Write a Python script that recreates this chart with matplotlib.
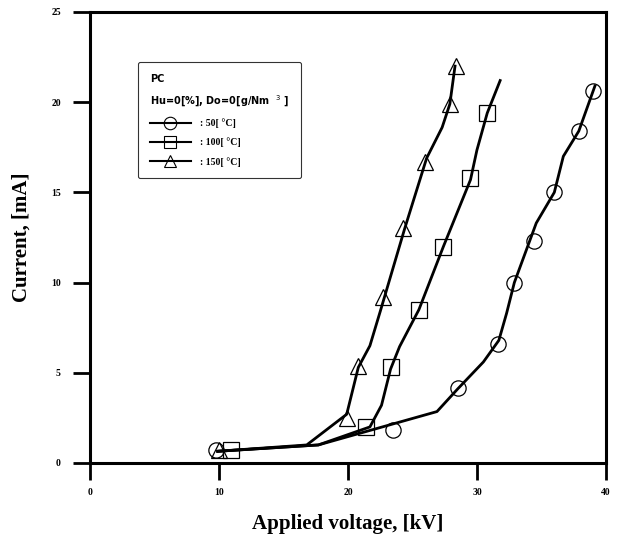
import matplotlib
matplotlib.use("Agg")
import matplotlib.pyplot as plt
from matplotlib.lines import Line2D

# Measured points (markers)
v_50 = [9.8, 23.5, 28.5, 31.6, 32.9, 34.4, 36.0, 37.9, 39.0]
i_50 = [0.7, 1.85, 4.15, 6.6, 10.0, 12.3, 15.0, 18.4, 20.6]
v_100 = [10.9, 21.4, 23.3, 25.5, 27.4, 29.5, 30.8]
i_100 = [0.7, 2.0, 5.3, 8.5, 12.0, 15.8, 19.4]
v_150 = [10.0, 19.9, 20.8, 22.7, 24.3, 26.0, 27.9, 28.4]
i_150 = [0.7, 2.5, 5.4, 9.2, 13.0, 16.7, 19.9, 22.0]

# Fitted curves drawn through the points
fit_v_50 = [9.9, 17.7, 26.9, 28.5, 30.5, 31.7, 32.3, 32.9, 34.6, 36.0, 36.7, 37.9, 39.15]
fit_i_50 = [0.65, 1.0, 2.85, 4.1, 5.6, 6.8, 8.3, 10.0, 13.3, 15.0, 17.0, 18.4, 20.9]
fit_v_100 = [9.9, 17.7, 21.7, 22.6, 23.3, 24.0, 25.5, 27.4, 29.5, 30.0, 30.8, 31.8]
fit_i_100 = [0.65, 1.0, 2.0, 3.2, 5.2, 6.45, 8.5, 12.0, 15.7, 17.35, 19.4, 21.2]
fit_v_150 = [9.9, 16.8, 19.9, 20.8, 21.7, 22.5, 24.4, 26.1, 27.3, 27.9, 28.3]
fit_i_150 = [0.65, 1.0, 2.7, 5.3, 6.5, 8.4, 13.0, 16.9, 18.6, 19.9, 22.0]

series = [
    (v_50, i_50, fit_v_50, fit_i_50, "o", ": 50[ \u00b0C]"),
    (v_100, i_100, fit_v_100, fit_i_100, "s", ": 100[ \u00b0C]"),
    (v_150, i_150, fit_v_150, fit_i_150, "^", ": 150[ \u00b0C]"),
]

plt.rcParams["font.family"] = ["Liberation Serif", "DejaVu Serif"]

fig = plt.figure(figsize=(6.17, 5.35), dpi=100)
ax = fig.add_axes([0.146, 0.1346, 0.836, 0.843])

handles = []
for vx, iy, fx, fy, marker, label in series:
    ax.plot(fx, fy, color="black", linewidth=2.0, zorder=3)
    ax.plot(vx, iy, linestyle="none", marker=marker, markersize=11,
            markerfacecolor="none", markeredgecolor="black",
            markeredgewidth=0.9, zorder=4)
    handles.append(Line2D([0], [0], color="black", linewidth=1.5,
                          marker=marker, markersize=9, markerfacecolor="none",
                          markeredgewidth=0.8, label=label))

ax.set_xlim(0, 40)
ax.set_ylim(0, 25)
ax.set_xticks([0, 10, 20, 30, 40])
ax.set_yticks([0, 5, 10, 15, 20, 25])

for s in ax.spines.values():
    s.set_linewidth(2.2)
ax.tick_params(direction="out", length=12, width=2, labelsize=7)
ax.tick_params(axis="x", pad=6)
ax.tick_params(axis="y", pad=9)
for lab in ax.get_xticklabels() + ax.get_yticklabels():
    lab.set_fontweight("bold")

ax.set_xlabel("Applied voltage, [kV]", fontsize=15, fontweight="bold", labelpad=12)
ax.set_ylabel("Current, [mA]", fontsize=15, fontweight="bold", labelpad=14)

leg = ax.legend(handles=handles, loc="upper left",
                bbox_to_anchor=(0.093, 0.888), borderaxespad=0,
                frameon=True, fancybox=True,
                fontsize=7, handlelength=4.2, labelspacing=0.95,
                title="PC\nHu=0[%], Do=0[g/Nm  $^{3}$ ]",
                alignment="left", borderpad=1.2, handletextpad=1.0,
                title_fontproperties={"weight": "bold", "size": 7,
                                      "family": "DejaVu Sans"})
leg.get_frame().set_edgecolor("black")
leg.get_frame().set_linewidth(0.8)
leg.get_title().set_linespacing(1.9)
for t in leg.get_texts():
    t.set_fontweight("bold")

fig.savefig("out.png", dpi=100)
